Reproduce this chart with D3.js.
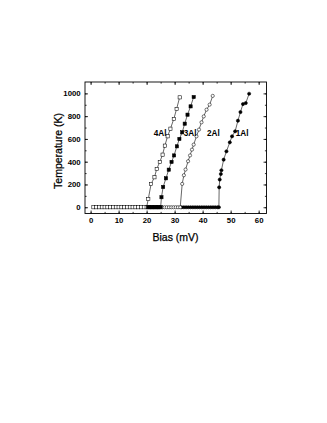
<!DOCTYPE html>
<html>
<head>
<meta charset="utf-8">
<script src="https://d3js.org/d3.v7.min.js"></script>
<style>
  body { margin: 0; background: #fff; }
  svg { display: block; font-family: "Liberation Sans", Arial, sans-serif; color: #000; }
</style>
</head>
<body>
<div id="chart"></div>
<script>
// 4Al : open squares
const al4Bias = [1, 2, 3, 4, 5, 6, 7, 8, 9, 10, 11, 12, 13, 14, 15, 16, 17, 18, 19, 20,
  20.6, 21.6, 22.8, 23.6, 24.7, 25.7, 26.5, 27.5, 28.5, 29.7, 30.7, 31.8];
const al4Temp = [0, 0, 0, 0, 0, 0, 0, 0, 0, 0, 0, 0, 0, 0, 0, 0, 0, 0, 0, 0,
  73, 205, 263, 336, 398, 462, 541, 623, 690, 775, 863, 965];

// 3Al : filled squares
const al3Bias = [20.5, 21, 21.5, 22, 22.5, 23, 23.5, 24, 24.5, 25,
  25.3, 25.9, 26.9, 27.9, 28.9, 29.8, 30.8, 31.7, 32.7, 33.6, 34.6, 35.7, 36.8];
const al3Temp = [0, 0, 0, 0, 0, 0, 0, 0, 0, 0,
  88, 178, 254, 330, 398, 455, 535, 600, 658, 734, 813, 886, 968];

// 2Al : open circles
const al2Bias = [25.6, 26.4, 27.2, 28, 28.8, 29.6, 30.4, 31.2, 32,
  32.7, 33.3, 33.9, 34.8, 35.5, 36.2, 36.8, 37.8, 38.7, 39.6, 40.4, 41.4, 42.5, 43.6];
const al2Temp = [0, 0, 0, 0, 0, 0, 0, 0, 0,
  205, 281, 331, 404, 455, 506, 550, 623, 682, 746, 798, 857, 901, 978];

// 1Al : filled circles
const al1Bias = [32.5, 33.3, 34.1, 34.9, 35.7, 36.5, 37.3, 38.1, 38.9, 39.7, 40.5, 41.3,
  42.1, 42.9, 43.7, 44.5, 45.3, 45.8,
  45.9, 46.1, 46.5, 46.7, 47.5, 48.5, 49.7, 50.5, 51.6, 52.6, 53.5, 54.4, 55.4, 56.6];
const al1Temp = [0, 0, 0, 0, 0, 0, 0, 0, 0, 0, 0, 0,
  0, 0, 0, 0, 0, 0,
  175, 243, 292, 325, 418, 491, 570, 623, 667, 760, 836, 906, 915, 997];

const xTicks = [0, 10, 20, 30, 40, 50, 60];
const yTicks = [0, 200, 400, 600, 800, 1000];

const seriesNames = ["4Al", "3Al", "2Al", "1Al"];
const labelBias = [27.1, 37.8, 46.1, 56.4];
const labelTemp = [625, 625, 625, 625];

const W = 327, H = 423;
const box = { left: 85, right: 266.5, top: 82, bottom: 213.5 };

const svg = d3.select("#chart").append("svg")
  .attr("width", W)
  .attr("height", H);

const x = d3.scaleLinear().domain([-2, 62.8]).range([box.left, box.right]);
const y = d3.scaleLinear().domain([-55, 1100]).range([box.bottom, box.top]);

// frame
svg.append("rect")
  .attr("x", box.left).attr("y", box.top)
  .attr("width", box.right - box.left).attr("height", box.bottom - box.top)
  .attr("fill", "none").attr("stroke", "#000").attr("stroke-width", 0.9);

const minorX = d3.range(0, 61, 5);
const minorY = d3.range(0, 1001, 100);

// inward ticks on all sides
function ticks(axis, vals, len, labels) {
  const g = svg.append("g")
    .attr("transform", axis.t)
    .call(axis.gen(axis.scale).tickValues(vals).tickSize(len).tickPadding(3)
      .tickFormat(labels ? d3.format("d") : ""));
  g.select(".domain").remove();
  g.selectAll("line").attr("stroke", "#000").attr("stroke-width", 0.8);
  g.selectAll("text").attr("font-size", 7.8).attr("font-weight", "bold").attr("fill", "#000");
  return g;
}

const bottomG = ticks({ gen: d3.axisBottom, scale: x, t: `translate(0,${box.bottom})` }, xTicks, -3, true);
bottomG.selectAll("text").attr("y", 4.3);
ticks({ gen: d3.axisBottom, scale: x, t: `translate(0,${box.bottom})` }, minorX, -1.6, false);
ticks({ gen: d3.axisTop, scale: x, t: `translate(0,${box.top})` }, xTicks, -3, false);
ticks({ gen: d3.axisTop, scale: x, t: `translate(0,${box.top})` }, minorX, -1.6, false);

const leftG = ticks({ gen: d3.axisLeft, scale: y, t: `translate(${box.left},0)` }, yTicks, -3, true);
leftG.selectAll("text").attr("x", -4.3);
ticks({ gen: d3.axisLeft, scale: y, t: `translate(${box.left},0)` }, minorY, -1.6, false);
ticks({ gen: d3.axisRight, scale: y, t: `translate(${box.right},0)` }, yTicks, -3, false);
ticks({ gen: d3.axisRight, scale: y, t: `translate(${box.right},0)` }, minorY, -1.6, false);

// axis titles
svg.append("text")
  .attr("x", 175.5).attr("y", 241)
  .attr("text-anchor", "middle").attr("font-size", 10.5)
  .attr("stroke", "#000").attr("stroke-width", 0.25)
  .text("Bias (mV)");

svg.append("text")
  .attr("transform", "translate(61.5,151) rotate(-90)")
  .attr("text-anchor", "middle").attr("font-size", 10.5)
  .attr("stroke", "#000").attr("stroke-width", 0.25)
  .text("Temperature (K)");

const line = d3.line().x(d => x(d[0])).y(d => y(d[1]));

const series = [
  { bias: al1Bias, temp: al1Temp, shape: "circle", fill: "#000" },
  { bias: al2Bias, temp: al2Temp, shape: "circle", fill: "#fff" },
  { bias: al4Bias, temp: al4Temp, shape: "square", fill: "#fff" },
  { bias: al3Bias, temp: al3Temp, shape: "square", fill: "#000" }
];

series.forEach(s => {
  const pts = s.bias.map((b, i) => [b, s.temp[i]]);
  svg.append("path")
    .attr("d", line(pts))
    .attr("fill", "none").attr("stroke", "#000").attr("stroke-width", 0.6);
  const g = svg.append("g");
  if (s.shape === "circle") {
    g.selectAll("circle").data(pts).enter().append("circle")
      .attr("cx", d => x(d[0])).attr("cy", d => y(d[1])).attr("r", 1.6)
      .attr("fill", s.fill).attr("stroke", "#000").attr("stroke-width", 0.55);
  } else {
    g.selectAll("rect").data(pts).enter().append("rect")
      .attr("x", d => x(d[0]) - 1.6).attr("y", d => y(d[1]) - 1.6)
      .attr("width", 3.2).attr("height", 3.2)
      .attr("fill", s.fill).attr("stroke", "#000").attr("stroke-width", 0.55);
  }
});

// series labels
svg.selectAll("text.lab").data(seriesNames).enter().append("text")
  .attr("class", "lab")
  .attr("x", (d, i) => x(labelBias[i]))
  .attr("y", (d, i) => y(labelTemp[i]))
  .attr("text-anchor", "end")
  .attr("font-size", 8.2).attr("font-weight", "bold")
  .text(d => d);
</script>
</body>
</html>
